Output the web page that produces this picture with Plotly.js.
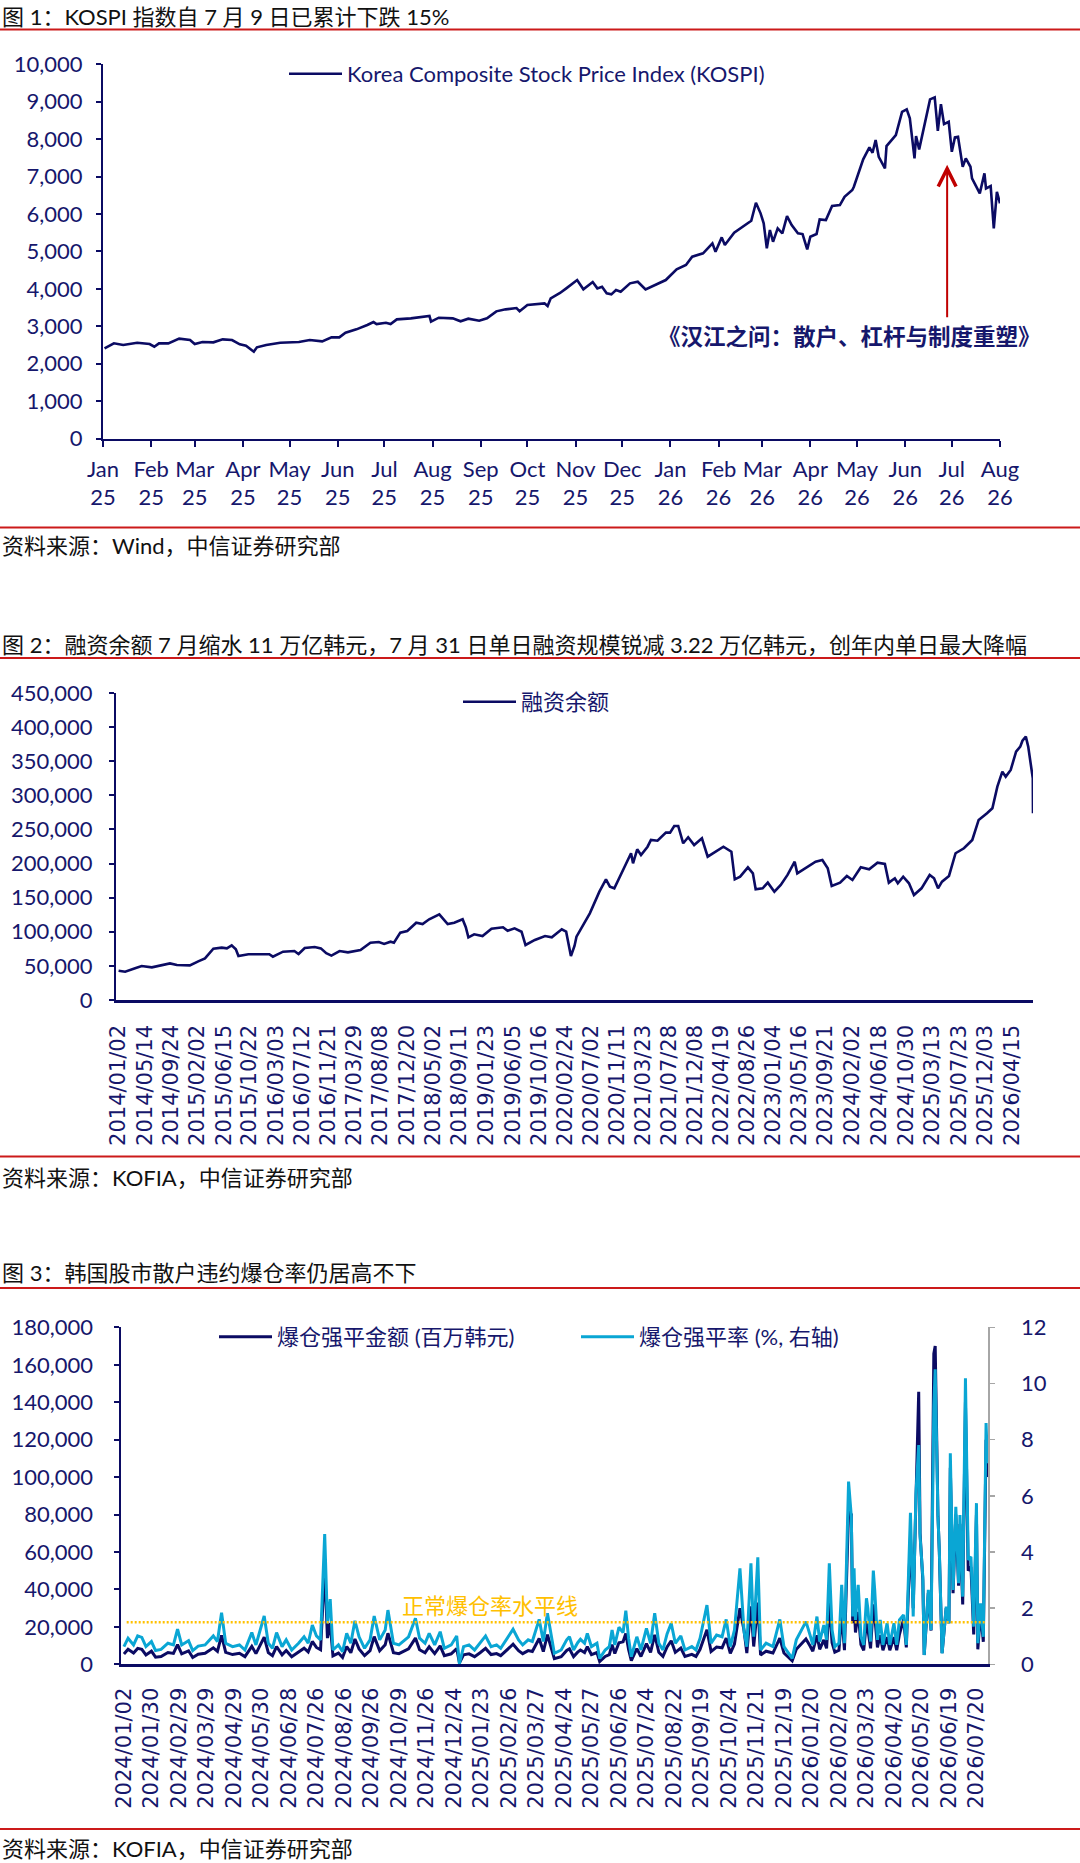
<!DOCTYPE html>
<html lang="zh-CN">
<head>
<meta charset="utf-8">
<title>KOSPI、融资余额与爆仓强平</title>
<script src="https://cdn.plot.ly/plotly-3.0.1.min.js"></script>
<style>
  html, body { margin: 0; padding: 0; background: #fff; }
  #page { width: 1080px; height: 1863px; }
</style>
</head>
<body>
<div id="page"></div>
<script>
/* ─── Fig 1: KOSPI close ─── */
const kospiDates = [
  '2025-01-02','2025-01-08','2025-01-14','2025-01-23','2025-01-31','2025-02-03','2025-02-06','2025-02-12','2025-02-19','2025-02-26',
  '2025-03-01','2025-03-06','2025-03-13','2025-03-19','2025-03-25','2025-03-30','2025-04-03','2025-04-06','2025-04-08','2025-04-10',
  '2025-04-16','2025-04-25','2025-05-07','2025-05-14','2025-05-22','2025-05-28','2025-06-02','2025-06-06','2025-06-13','2025-06-20',
  '2025-06-24','2025-06-26','2025-07-02','2025-07-05','2025-07-09','2025-07-18','2025-07-30','2025-07-31','2025-08-05','2025-08-14',
  '2025-08-19','2025-08-24','2025-08-31','2025-09-05','2025-09-11','2025-09-17','2025-09-24','2025-09-26','2025-10-01','2025-10-12',
  '2025-10-14','2025-10-16','2025-10-22','2025-10-26','2025-11-02','2025-11-06','2025-11-12','2025-11-15','2025-11-18','2025-11-21',
  '2025-11-24','2025-11-27','2025-11-30','2025-12-06','2025-12-11','2025-12-16','2025-12-23','2025-12-29','2026-01-05','2026-01-11',
  '2026-01-15','2026-01-22','2026-01-28','2026-01-30','2026-02-03','2026-02-05','2026-02-11','2026-02-19','2026-02-22','2026-02-25',
  '2026-02-28','2026-03-02','2026-03-04','2026-03-06','2026-03-08','2026-03-11','2026-03-14','2026-03-17','2026-03-20','2026-03-24',
  '2026-03-27','2026-03-30','2026-04-01','2026-04-05','2026-04-07','2026-04-11','2026-04-15','2026-04-20','2026-04-23','2026-04-28',
  '2026-04-29','2026-05-05','2026-05-09','2026-05-11','2026-05-13','2026-05-15','2026-05-19','2026-05-20','2026-05-26','2026-05-30',
  '2026-06-02','2026-06-04','2026-06-07','2026-06-08','2026-06-10','2026-06-17','2026-06-20','2026-06-22','2026-06-24','2026-06-26',
  '2026-06-29','2026-07-01','2026-07-03','2026-07-05','2026-07-08','2026-07-10','2026-07-13','2026-07-14','2026-07-19','2026-07-22',
  '2026-07-23','2026-07-26','2026-07-28','2026-07-30','2026-08-01'
];
const kospiClose = [
  2412,2545,2500,2562,2527,2455,2545,2545,2670,2634,
  2527,2580,2572,2652,2634,2518,2482,2385,2320,2438,
  2500,2562,2580,2634,2598,2705,2705,2829,2919,3034,
  3114,3061,3096,3061,3186,3213,3275,3123,3230,3213,
  3133,3203,3150,3213,3400,3453,3488,3400,3568,3613,
  3542,3747,3890,4014,4236,3988,4183,4014,4058,3881,
  3854,3969,3924,4148,4191,3988,4130,4236,4522,4637,
  4859,4949,5216,4992,5376,5171,5500,5750,5820,6301,
  6018,5750,5083,5572,5259,5617,5483,5946,5705,5483,
  5465,5056,5393,5465,5857,5839,6213,6239,6461,6640,
  6728,7460,7780,7636,7975,7529,7219,7815,8109,8731,
  8795,8555,7487,8082,7727,9062,9116,8224,8937,8403,
  8464,7663,8047,8064,7262,7487,7262,6952,6552,7086,
  6685,6747,5617,6595,6285
];
// red arrow marks the book release: tip and tail in index points
const arrowDate = '2026-06-28';
const arrowTip = 7315;
const arrowTail = 3200;

/* ─── Fig 2: margin loan balance ─── */
const marginDates = [
  '2014-01-02','2014-02-04','2014-03-26','2014-04-28','2014-06-18','2014-07-21','2014-09-17','2014-10-22','2014-12-26','2015-02-06',
  '2015-03-12','2015-04-23','2015-06-04','2015-06-30','2015-07-24','2015-08-14','2015-08-27','2015-10-16','2015-12-18','2016-01-29',
  '2016-02-16','2016-04-07','2016-06-03','2016-06-24','2016-07-25','2016-09-13','2016-10-14','2016-11-10','2016-12-06','2017-01-16',
  '2017-02-27','2017-05-01','2017-06-20','2017-08-01','2017-08-28','2017-09-29','2017-10-16','2017-11-17','2017-12-22','2018-02-05',
  '2018-03-09','2018-04-11','2018-06-01','2018-06-26','2018-07-13','2018-08-15','2018-09-26','2018-10-12','2018-10-25','2018-11-23',
  '2019-01-04','2019-02-18','2019-04-17','2019-05-10','2019-06-14','2019-07-19','2019-08-08','2019-09-24','2019-11-14','2019-12-18',
  '2020-02-06','2020-02-28','2020-03-23','2020-04-10','2020-04-20','2020-06-26','2020-08-13','2020-09-15','2020-10-05','2020-10-27',
  '2020-12-16','2021-01-19','2021-01-29','2021-02-19','2021-03-10','2021-04-12','2021-04-29','2021-06-01','2021-07-13','2021-08-03',
  '2021-08-24','2021-09-13','2021-10-08','2021-11-02','2021-12-02','2022-01-10','2022-02-08','2022-03-17','2022-04-28','2022-06-07',
  '2022-06-24','2022-07-21','2022-08-29','2022-09-23','2022-10-07','2022-11-11','2022-12-07','2023-01-09','2023-02-10','2023-03-16',
  '2023-04-21','2023-05-04','2023-06-23','2023-08-04','2023-09-07','2023-10-04','2023-10-24','2023-12-05','2024-01-08','2024-02-05',
  '2024-03-18','2024-04-29','2024-06-10','2024-07-17','2024-08-06','2024-09-05','2024-09-20','2024-10-17','2024-11-15','2024-12-10',
  '2025-01-17','2025-02-27','2025-03-21','2025-04-10','2025-04-30','2025-06-04','2025-07-07','2025-08-18','2025-09-29','2025-10-31',
  '2025-12-12','2026-01-08','2026-02-02','2026-02-27','2026-03-16','2026-04-10','2026-05-07','2026-05-28','2026-06-08','2026-06-25',
  '2026-07-07','2026-07-24','2026-07-30','2026-07-31'
];
const marginBalance = [
  43000,41500,46400,49800,47900,50300,53700,51300,50800,56700,
  61100,75200,76700,75700,80100,74300,64500,67000,66400,67000,
  63500,70800,71800,67400,76200,77700,75700,68500,65000,71800,
  69900,73300,84000,85000,82100,85500,84000,98700,101200,113300,
  111400,118300,125600,117300,111400,113300,118300,106600,91900,96300,
  93800,104500,106600,101600,105100,100100,80600,88000,93800,91900,
  103600,100100,64500,79200,92800,127100,158800,176900,166100,163700,
  193100,215100,200400,220900,212600,224700,234600,233500,245300,245300,
  255100,255100,229700,238500,227200,237000,210100,217400,224700,217400,
  176900,180800,194500,185700,162300,163700,172000,158800,168600,183300,
  202700,185700,195400,202700,205200,193100,167100,172000,181800,175900,
  194500,191600,201300,199400,172000,178400,171100,180800,171100,153900,
  163700,183300,178400,163700,173400,181800,215100,222400,234600,263900,
  273700,281000,312700,334700,327400,337200,364000,371400,380100,386000,
  371400,332300,325000,273700
];
// one label every 90 trading sessions
const marginTickDates = [
  '2014-01-02','2014-05-14','2014-09-24','2015-02-02','2015-06-15','2015-10-22','2016-03-03','2016-07-12','2016-11-21','2017-03-29',
  '2017-08-08','2017-12-20','2018-05-02','2018-09-11','2019-01-23','2019-06-05','2019-10-16','2020-02-24','2020-07-02','2020-11-11',
  '2021-03-23','2021-07-28','2021-12-08','2022-04-19','2022-08-26','2023-01-04','2023-05-16','2023-09-21','2024-02-02','2024-06-18',
  '2024-10-30','2025-03-13','2025-07-23','2025-12-03','2026-04-15'
];

/* ─── Fig 3: forced liquidations, by trading session since 2024/01/02 ─── */
const liqTickLabels = [
  '2024/01/02','2024/01/30','2024/02/29','2024/03/29','2024/04/29','2024/05/30','2024/06/28','2024/07/26',
  '2024/08/26','2024/09/26','2024/10/29','2024/11/26','2024/12/24','2025/01/23','2025/02/26','2025/03/27',
  '2025/04/24','2025/05/27','2025/06/26','2025/07/24','2025/08/22','2025/09/19','2025/10/24','2025/11/21',
  '2025/12/19','2026/01/20','2026/02/20','2026/03/23','2026/04/20','2026/05/20','2026/06/19','2026/07/20'
];
const SESSIONS_PER_LABEL = 20;
const liqSession = [
  0,3,7,10,13,16,20,23,27,32, 36,39,42,47,50,54,59,65,68,71,
  74,79,84,88,93,96,102,105,108,111, 115,118,122,127,131,134,137,140,143,146,
  148,150,152,156,159,162,165,168,171,175, 179,182,186,190,192,196,200,207,212,215,
  219,222,226,230,233,238,242,244,247,251, 255,259,263,267,271,274,279,283,287,290,
  294,297,302,305,308,311,313,318,322,324, 327,330,332,335,337,340,344,346,350,353,
  355,357,360,363,365,367,369,373,376,380, 383,386,389,392,395,398,401,405,408,413,
  416,419,424,427,431,435,438,441,444,448, 451,453,456,458,461,463,467,472,477,480,
  486,489,493,496,499,501,504,506,509,511, 513,515,517,520,522,524,527,529,530,531,
  532,534,536,538,540,541,543,545,546,548, 550,552,555,557,560,562,564,567,569,572,
  574,576,578,579,581,582,585,587,589,590, 592,593,595,598,600,601,603,605,607,608,
  610,612,614,616,618,620,621,623,625,627, 628
];
// 爆仓强平金额, 百万韩元
const liqAmount = [
  5500,8000,6000,8500,8000,5000,7000,3800,4200,6300, 5800,10500,5600,7200,3600,5400,5900,8800,6900,15500,
  6400,5200,5900,4100,9600,5700,14500,6200,4600,9500, 5100,7400,4000,6500,8600,6600,12200,9000,7800,52000,
  14000,22000,4500,6000,3600,9500,6200,13500,8200,4600, 7300,14800,7200,10400,16600,6200,5700,8300,14000,7800,
  6200,9400,5700,9800,4600,5600,8400,800,5100,5600, 4100,6200,8500,5200,5700,4600,7900,10700,7300,5700,
  7300,6800,13800,6800,15800,7300,3000,4100,7400,8300, 4100,6500,7600,6300,9400,5200,6300,1500,4200,5200,
  10500,5800,11500,12000,16500,8000,2000,8400,4200,11000, 6400,15800,6400,4200,9300,12600,6400,8700,4200,5300,
  4200,8000,18500,6800,9200,8800,14000,5800,10800,30000, 18000,6000,31000,9500,33000,5000,7000,6000,14000,6000,
  1800,8000,11000,13500,9800,7000,15500,8000,13000,8500, 33000,11500,6500,7500,27000,7500,82000,80000,22000,35000,
  17000,28000,10500,7500,23000,19000,8500,32000,26000,9000, 15500,7500,14500,7500,14500,7500,16000,24000,9000,68000,
  30000,92000,145600,70000,45000,5000,38000,18000,166000,170000, 80000,60000,6000,30000,22000,105000,38000,80000,42000,75000,
  32000,140000,50000,52000,16000,80000,8000,28000,12000,120000, 100000
];
// 爆仓强平率, %
const liqRate = [
  0.63,0.93,0.69,1.01,0.96,0.63,0.81,0.49,0.53,0.75, 0.69,1.25,0.69,0.84,0.49,0.65,0.69,1.01,0.81,1.84,
  0.75,0.63,0.69,0.51,1.13,0.69,1.72,0.75,0.57,1.13, 0.63,0.87,0.51,0.75,0.98,0.75,1.40,1.01,0.87,4.64,
  1.46,2.32,0.51,0.69,0.45,1.10,0.75,1.55,0.98,0.57, 0.87,1.72,0.87,1.22,1.93,0.75,0.69,0.98,1.64,0.93,
  0.75,1.10,0.69,1.16,0.57,0.69,1.01,0.02,0.63,0.69, 0.51,0.75,1.01,0.63,0.69,0.57,0.93,1.25,0.87,0.69,
  0.87,0.81,1.60,0.81,1.82,0.87,0.39,0.51,0.87,0.98, 0.51,0.77,0.89,0.75,1.10,0.63,0.75,0.21,0.51,0.63,
  1.22,0.69,1.32,1.13,1.91,0.93,0.27,0.98,0.51,1.28, 0.75,1.82,0.75,0.51,1.08,1.46,0.75,1.01,0.51,0.63,
  0.51,0.93,2.11,0.75,1.04,0.98,1.60,0.63,1.22,3.42, 1.16,0.63,3.60,0.98,3.81,0.51,0.75,0.63,1.60,0.63,
  0.21,0.87,1.22,1.52,1.04,0.69,1.70,0.81,1.40,0.87, 3.60,1.22,0.63,0.75,2.83,0.75,6.51,5.26,1.70,3.42,
  1.58,2.83,0.98,0.69,2.35,2.00,0.81,3.34,2.65,0.87, 1.58,0.69,1.46,0.69,1.46,0.69,1.58,1.76,0.69,5.40,
  1.70,6.09,7.81,4.55,3.12,0.33,2.65,1.22,9.18,10.51, 5.26,4.07,0.39,2.05,1.46,7.52,2.65,5.61,2.89,5.32,
  2.41,10.19,3.72,3.83,1.34,5.74,0.75,2.17,0.98,8.59, 7.16
];
const NORMAL_RATE = 1.5;   // 正常爆仓率水平线, % (right axis)

/* ─── Style ─── */
const W = 1080, H = 1863;
const px = v => v / W;          // page pixel -> paper x
const py = v => 1 - v / H;      // page pixel -> paper y

const NAVY = '#0b0b63';
const TEXT = '#16176c';
const CYAN = '#0aa6d4';
const RED = '#cc1a1a';
const GOLD = '#ffc000';
const GREY = '#a6a6a6';
const FONT = 'Lato, "Noto Sans CJK SC", sans-serif';
const DATE_FONT = '"DejaVu Sans", sans-serif';

const TICKFONT = { family: FONT, size: 22, color: TEXT };

const AXIS = {
  showgrid: false,
  zeroline: false,
  showline: true,
  linecolor: NAVY,
  linewidth: 2,
  ticks: 'outside',
  ticklen: 5,
  tickwidth: 2,
  tickcolor: NAVY,
  tickfont: TICKFONT,
  fixedrange: true,
};

const LEGEND = {
  xanchor: 'left',
  yanchor: 'middle',
  bgcolor: 'rgba(0,0,0,0)',
  borderwidth: 0,
  font: { family: FONT, size: 22, color: TEXT },
  itemwidth: 53,
  itemclick: false,
  itemdoubleclick: false,
};

/* ─── Traces ─── */
const traces = [
  {
    x: kospiDates, y: kospiClose,
    type: 'scatter', mode: 'lines',
    line: { color: NAVY, width: 2.6 },
    name: 'Korea Composite Stock Price Index (KOSPI)',
    xaxis: 'x', yaxis: 'y', legend: 'legend',
  },
  {
    x: marginDates, y: marginBalance,
    type: 'scatter', mode: 'lines',
    line: { color: NAVY, width: 2.6 },
    name: '融资余额',
    xaxis: 'x2', yaxis: 'y2', legend: 'legend2',
  },
  {
    x: liqSession, y: liqAmount,
    type: 'scatter', mode: 'lines',
    line: { color: NAVY, width: 3 },
    name: '爆仓强平金额 (百万韩元)',
    xaxis: 'x3', yaxis: 'y3', legend: 'legend3',
  },
  {
    x: liqSession, y: liqRate,
    type: 'scatter', mode: 'lines',
    line: { color: CYAN, width: 3 },
    name: '爆仓强平率 (%, 右轴)',
    xaxis: 'x3', yaxis: 'y4', legend: 'legend3',
  },
];

/* ─── Page furniture: captions, red rules, sources ─── */
const note = (text, x, y, font, extra) => Object.assign({
  xref: 'paper', yref: 'paper', x: px(x), y: py(y),
  xanchor: 'left', yanchor: 'middle', showarrow: false,
  text, font,
}, extra || {});
const CAPTION = { family: FONT, size: 22, color: '#111111' };
const rule = y => ({
  type: 'line', xref: 'paper', yref: 'paper',
  x0: 0, x1: 1, y0: py(y), y1: py(y),
  line: { color: RED, width: 2 },
});

const annotations = [
  note('图 1：KOSPI 指数自 7 月 9 日已累计下跌 15%', 0, 16, CAPTION),
  note('资料来源：Wind，中信证券研究部', 0, 546, CAPTION),
  note('图 2：融资余额 7 月缩水 11 万亿韩元，7 月 31 日单日融资规模锐减 3.22 万亿韩元，创年内单日最大降幅', 0, 644, CAPTION),
  note('资料来源：KOFIA，中信证券研究部', 0, 1177, CAPTION),
  note('图 3：韩国股市散户违约爆仓率仍居高不下', 0, 1272, CAPTION),
  note('资料来源：KOFIA，中信证券研究部', 0, 1848, CAPTION),
  note('《汉江之问：散户、杠杆与制度重塑》', 849, 336,
       { family: FONT, size: 22.5, color: TEXT, weight: 'bold' }, { xanchor: 'center' }),
  note('正常爆仓率水平线', 490, 1605, { family: FONT, size: 22, color: GOLD }, { xanchor: 'center' }),
  {
    xref: 'x', yref: 'y', axref: 'x', ayref: 'y',
    x: arrowDate, y: arrowTip, ax: arrowDate, ay: arrowTail,
    text: '', showarrow: true, arrowhead: 5, arrowsize: 1.75,
    arrowwidth: 2, arrowcolor: '#c00000', standoff: 0,
  },
];

const shapes = [
  rule(29.5), rule(527.5),
  rule(658), rule(1156.5),
  rule(1288), rule(1829),
  {
    type: 'line', xref: 'x3', yref: 'y4',
    x0: 2, x1: 627, y0: NORMAL_RATE, y1: NORMAL_RATE,
    line: { color: GOLD, width: 2.5, dash: '2px,2px' },
  },
];

/* ─── Layout ─── */
const layout = {
  width: W, height: H,
  margin: { l: 0, r: 0, t: 0, b: 0 },
  paper_bgcolor: '#ffffff',
  plot_bgcolor: '#ffffff',
  font: { family: FONT, color: TEXT },
  showlegend: true,

  xaxis: {
    ...AXIS,
    type: 'date',
    domain: [px(103), px(1000)],
    range: ['2025-01-01', '2026-08-01'],
    tick0: '2025-01-01', dtick: 'M1',
    tickformat: '%b<br>%y',
    ticklen: 6, linewidth: 2.5,
    ticklabelstandoff: 3,
    anchor: 'y',
  },
  yaxis: {
    ...AXIS,
    domain: [py(438.6), py(64.3)],
    range: [0, 10000], dtick: 1000,
    tickformat: ',d',
    ticklabelstandoff: 9,
    anchor: 'x',
  },

  xaxis2: {
    ...AXIS,
    type: 'date',
    domain: [px(116), px(1033)],
    range: ['2013-12-20', '2026-07-31'],
    tickmode: 'array',
    tickvals: marginTickDates,
    ticktext: marginTickDates.map(d => d.replace(/-/g, '/')),
    tickangle: -90,
    ticks: '',
    linewidth: 2.5,
    tickfont: { family: DATE_FONT, size: 21, color: TEXT },
    ticklabelstandoff: 14,
    anchor: 'y2',
  },
  yaxis2: {
    ...AXIS,
    domain: [py(1000), py(693)],
    range: [0, 450000], dtick: 50000,
    tickformat: ',d',
    ticklabelstandoff: 12,
    anchor: 'x2',
  },

  xaxis3: {
    ...AXIS,
    domain: [px(120.5), px(988)],
    range: [-2.5, 628.4],
    tickmode: 'array',
    tickvals: liqTickLabels.map((_, i) => i * SESSIONS_PER_LABEL),
    ticktext: liqTickLabels,
    tickangle: -90,
    ticks: '',
    linewidth: 3,
    tickfont: { family: DATE_FONT, size: 21, color: TEXT },
    ticklabelstandoff: 12,
    anchor: 'y3',
  },
  yaxis3: {
    ...AXIS,
    domain: [py(1664.3), py(1327.4)],
    range: [0, 180000], dtick: 20000,
    tickformat: ',d',
    ticklabelstandoff: 16,
    anchor: 'x3',
  },
  yaxis4: {
    ...AXIS,
    overlaying: 'y3',
    side: 'right',
    anchor: 'x3',
    range: [0, 12], dtick: 2,
    linecolor: GREY, tickcolor: GREY, linewidth: 1.5, tickwidth: 1.5,
    ticklabelstandoff: 22,
  },

  legend: { ...LEGEND, x: px(284), y: py(74) },
  legend2: { ...LEGEND, x: px(458), y: py(702) },
  legend3: { ...LEGEND, x: px(214), y: py(1337), orientation: 'h', entrywidth: 294, entrywidthmode: 'pixels' },

  annotations,
  shapes,
};

Plotly.newPlot('page', traces, layout, { displayModeBar: false, staticPlot: true });
</script>
</body>
</html>
